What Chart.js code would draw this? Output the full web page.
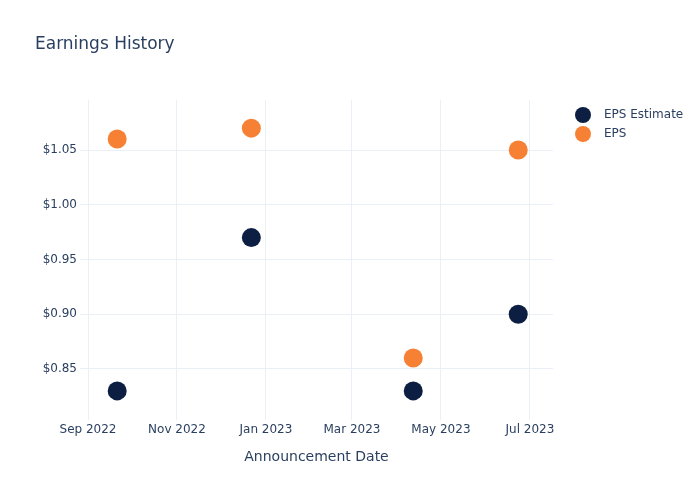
<!DOCTYPE html>
<html>
<head>
<meta charset="utf-8">
<script src="https://cdn.jsdelivr.net/npm/chart.js@4.4.0/dist/chart.umd.min.js"></script>
<style>
  html, body { margin: 0; padding: 0; background: #fff; }
  #wrap { width: 700px; height: 500px; }
</style>
</head>
<body>
<div id="wrap"><canvas id="chart" width="700" height="500"></canvas></div>
<script>
// announcement dates and EPS values
const announceDates = ['2022-09-21', '2022-12-22', '2023-04-12', '2023-06-23'];
const epsEstimate   = [0.83, 0.97, 0.83, 0.90];
const epsActual     = [1.06, 1.07, 0.86, 1.05];

const xTickDates  = ['2022-09-01', '2022-11-01', '2023-01-01', '2023-03-01', '2023-05-01', '2023-07-01'];
const xTickLabels = ['Sep 2022', 'Nov 2022', 'Jan 2023', 'Mar 2023', 'May 2023', 'Jul 2023'];
const yTicks      = [0.85, 0.90, 0.95, 1.00, 1.05];

const seriesNames  = ['EPS Estimate', 'EPS'];
const seriesColors = ['#0c1f42', '#f68135'];

const ts = d => Date.parse(d + 'T00:00:00Z');
const FONT = '"DejaVu Sans", sans-serif';
const TEXT = '#2a3f5f';
const GRID = '#ebf0f8';

const toPoints = vals => announceDates.map((d, i) => ({ x: ts(d), y: vals[i] }));

// title + legend drawn on the canvas the way plotly lays them out
const extras = {
  id: 'extras',
  afterDraw(chart) {
    const c = chart.ctx;
    c.save();
    c.fillStyle = TEXT;
    c.font = '17px ' + FONT;
    c.textBaseline = 'middle';
    c.fillText('Earnings History', 35, 45);

    c.font = '12px ' + FONT;
    seriesNames.forEach((name, i) => {
      const y = 115 + i * 19;
      c.beginPath();
      c.arc(583, y, 8, 0, Math.PI * 2);
      c.fillStyle = seriesColors[i];
      c.fill();
      c.fillStyle = TEXT;
      c.fillText(name, 604, y);
    });
    c.restore();
  }
};

new Chart(document.getElementById('chart'), {
  type: 'scatter',
  data: {
    datasets: [
      { label: seriesNames[0], data: toPoints(epsEstimate), backgroundColor: seriesColors[0], borderWidth: 0, pointRadius: 9.5, pointHoverRadius: 9.5 },
      { label: seriesNames[1], data: toPoints(epsActual),   backgroundColor: seriesColors[1], borderWidth: 0, pointRadius: 9.5, pointHoverRadius: 9.5 }
    ]
  },
  options: {
    responsive: false,
    animation: false,
    layout: { padding: { top: 100, right: 147, bottom: 34, left: 0 } },
    plugins: { legend: { display: false }, tooltip: { enabled: false }, title: { display: false } },
    scales: {
      x: {
        type: 'linear',
        min: ts('2022-08-26') + 12 * 3600e3,
        max: ts('2023-07-16') + 20 * 3600e3,
        afterBuildTicks: s => { s.ticks = xTickDates.map(d => ({ value: ts(d) })); },
        afterFit: s => { s.height = 46; },
        grid: { color: GRID, drawTicks: false },
        border: { display: false },
        ticks: {
          color: TEXT, font: { family: FONT, size: 12 }, padding: 3, maxRotation: 0,
          callback: v => xTickLabels[xTickDates.findIndex(d => ts(d) === v)]
        },
        title: { display: true, text: 'Announcement Date', color: TEXT, font: { family: FONT, size: 14 }, padding: 0 }
      },
      y: {
        min: 0.8034,
        max: 1.0957,
        afterBuildTicks: s => { s.ticks = yTicks.map(v => ({ value: v })); },
        afterFit: s => { s.width = 80; },
        grid: { color: GRID, drawTicks: false },
        border: { display: false },
        ticks: {
          color: TEXT, font: { family: FONT, size: 12 }, padding: 3,
          callback: v => '$' + v.toFixed(2)
        }
      }
    }
  },
  plugins: [extras]
});
</script>
</body>
</html>
